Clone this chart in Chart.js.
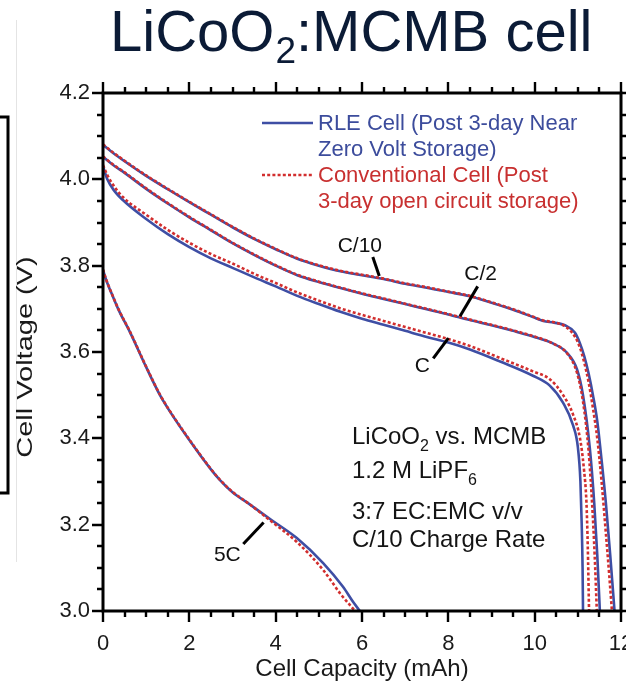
<!DOCTYPE html>
<html>
<head>
<meta charset="utf-8">
<script src="https://cdn.jsdelivr.net/npm/chart.js@4.4.1/dist/chart.umd.min.js"></script>
<style>
  html, body { margin: 0; padding: 0; background: #fff; overflow: hidden; }
  #chart { display: block; }
</style>
</head>
<body>
<canvas id="chart" width="660" height="690"></canvas>
<script>
// Discharge curves, capacity (mAh) vs voltage (V)
// C/10 rate
const c10RleCap = [0, 0.25, 0.5, 1, 1.5, 2, 2.5, 3, 3.5, 4, 4.5, 5, 5.5, 6, 6.5, 7, 7.5, 8, 8.5, 9, 9.5, 9.96, 10.2, 10.45, 10.7, 10.93, 11.05, 11.15, 11.25, 11.35, 11.45, 11.55, 11.65, 11.75, 11.85];
const c10RleV = [4.08, 4.06, 4.042, 4.008, 3.977, 3.947, 3.918, 3.889, 3.862, 3.838, 3.816, 3.8, 3.787, 3.778, 3.769, 3.758, 3.749, 3.739, 3.729, 3.714, 3.698, 3.681, 3.672, 3.668, 3.662, 3.645, 3.62, 3.59, 3.55, 3.5, 3.44, 3.35, 3.25, 3.13, 3.0];
const c10ConvCap = [0, 0.25, 0.5, 1, 1.5, 2, 2.5, 3, 3.5, 4, 4.5, 5, 5.5, 6, 6.5, 7, 7.5, 8, 8.5, 9, 9.5, 9.96, 10.2, 10.45, 10.7, 10.93, 11.05, 11.15, 11.25, 11.35, 11.45, 11.55, 11.65, 11.73, 11.79];
const c10ConvV = [4.081, 4.061, 4.043, 4.009, 3.978, 3.948, 3.919, 3.89, 3.863, 3.839, 3.817, 3.801, 3.788, 3.779, 3.77, 3.759, 3.75, 3.74, 3.73, 3.715, 3.699, 3.682, 3.673, 3.669, 3.66, 3.636, 3.61, 3.575, 3.53, 3.47, 3.4, 3.3, 3.18, 3.08, 3.0];

// C/2 rate
const c2RleCap = [0, 0.25, 0.5, 1, 1.5, 2, 2.5, 3, 3.5, 4, 4.5, 5, 5.5, 6, 6.5, 7, 7.5, 8, 8.5, 9, 9.5, 9.96, 10.42, 10.75, 10.98, 11.12, 11.28, 11.38, 11.45, 11.51];
const c2RleV = [4.052, 4.032, 4.015, 3.978, 3.944, 3.912, 3.882, 3.852, 3.825, 3.8, 3.778, 3.762, 3.748, 3.735, 3.723, 3.711, 3.699, 3.687, 3.674, 3.662, 3.649, 3.636, 3.62, 3.598, 3.56, 3.5, 3.375, 3.25, 3.13, 3.0];
const c2ConvCap = [0, 0.25, 0.5, 1, 1.5, 2, 2.5, 3, 3.5, 4, 4.5, 5, 5.5, 6, 6.5, 7, 7.5, 8, 8.5, 9, 9.5, 9.96, 10.42, 10.75, 10.98, 11.12, 11.25, 11.33, 11.39, 11.44];
const c2ConvV = [4.053, 4.033, 4.016, 3.979, 3.945, 3.913, 3.883, 3.853, 3.826, 3.801, 3.779, 3.763, 3.749, 3.736, 3.724, 3.712, 3.7, 3.688, 3.675, 3.663, 3.65, 3.637, 3.62, 3.597, 3.552, 3.485, 3.37, 3.25, 3.13, 3.0];

// C rate
const c1RleCap = [0, 0.1, 0.25, 0.46, 1, 1.5, 2, 2.5, 3, 3.57, 4, 4.5, 5, 5.5, 6, 6.5, 7, 7.5, 8, 8.5, 9.2, 9.96, 10.35, 10.66, 10.89, 11.0, 11.06, 11.09, 11.11, 11.12];
const c1RleV = [4.03, 4.0, 3.975, 3.952, 3.908, 3.873, 3.843, 3.817, 3.795, 3.77, 3.752, 3.73, 3.711, 3.693, 3.677, 3.663, 3.649, 3.635, 3.622, 3.606, 3.578, 3.545, 3.522, 3.482, 3.43, 3.38, 3.3, 3.2, 3.1, 3.0];
const c1ConvCap = [0, 0.1, 0.25, 0.46, 1, 1.5, 2, 2.5, 3, 3.57, 4, 4.5, 5, 5.5, 6, 6.5, 7, 7.5, 8, 8.5, 9.2, 9.96, 10.35, 10.66, 10.89, 11.05, 11.14, 11.2, 11.23, 11.26];
const c1ConvV = [4.033, 4.01, 3.985, 3.959, 3.918, 3.883, 3.853, 3.827, 3.805, 3.778, 3.76, 3.738, 3.719, 3.701, 3.686, 3.672, 3.658, 3.644, 3.63, 3.614, 3.586, 3.555, 3.537, 3.5, 3.455, 3.4, 3.33, 3.25, 3.15, 3.0];

// 5C rate
const c5RleCap = [0, 0.08, 0.16, 0.35, 0.63, 1, 1.32, 1.5, 2, 2.5, 2.71, 3, 3.4, 3.87, 4.49, 5.1, 5.56, 5.8, 5.95];
const c5RleV = [3.79, 3.765, 3.745, 3.7, 3.645, 3.565, 3.5, 3.47, 3.396, 3.328, 3.303, 3.275, 3.247, 3.213, 3.169, 3.111, 3.056, 3.02, 3.0];
const c5ConvCap = [0, 0.08, 0.16, 0.35, 0.63, 1, 1.32, 1.5, 2, 2.5, 2.71, 3, 3.4, 3.87, 4.49, 5.1, 5.5, 5.84];
const c5ConvV = [3.791, 3.766, 3.746, 3.701, 3.646, 3.566, 3.501, 3.471, 3.397, 3.329, 3.304, 3.276, 3.247, 3.21, 3.16, 3.095, 3.04, 3.0];

// Legend / annotation texts
const legendRle = ['RLE Cell (Post 3-day Near', 'Zero Volt Storage)'];
const legendConv = ['Conventional Cell (Post', '3-day open circuit storage)'];
const rateLabels = [
  { text: 'C/10', x: 5.95, y: 3.845, tip: [6.25, 3.82, 6.4, 3.776] },
  { text: 'C/2', x: 8.75, y: 3.78, tip: [8.68, 3.752, 8.27, 3.683] },
  { text: 'C', x: 7.4, y: 3.568, tip: [7.65, 3.585, 8.0, 3.632] },
  { text: '5C', x: 2.88, y: 3.13, tip: [3.25, 3.155, 3.72, 3.205] }
];

const BLUE = '#3e4ea4';
const RED = '#d22e2e';

function pts(cap, v) {
  return cap.map((c, i) => ({ x: c, y: v[i] }));
}

function rle(cap, v) {
  return {
    data: pts(cap, v), borderColor: BLUE, borderWidth: 2.6, order: 2,
    pointRadius: 0, cubicInterpolationMode: 'monotone', fill: false
  };
}
function conv(cap, v) {
  return {
    data: pts(cap, v), borderColor: RED, borderWidth: 2.6, borderDash: [3, 2.2], order: 1,
    pointRadius: 0, cubicInterpolationMode: 'monotone', fill: false
  };
}

// frame, minor ticks, titles and notes
const decorations = {
  id: 'decorations',
  afterDraw(chart) {
    const { ctx, chartArea: a, scales: { x, y } } = chart;
    ctx.save();

    // cropped box edge on the far left
    ctx.strokeStyle = '#e4e4e4';
    ctx.lineWidth = 1;
    ctx.beginPath(); ctx.moveTo(16.5, 20); ctx.lineTo(16.5, 562); ctx.stroke();
    ctx.strokeStyle = '#000';
    ctx.lineWidth = 3;
    ctx.beginPath();
    ctx.moveTo(0, 117); ctx.lineTo(8, 117); ctx.lineTo(8, 493); ctx.lineTo(0, 493);
    ctx.stroke();

    // axes frame
    ctx.strokeStyle = '#000';
    ctx.lineWidth = 3;
    ctx.strokeRect(a.left, a.top, a.right - a.left, a.bottom - a.top);

    // ticks on all four sides
    ctx.lineWidth = 2.4;
    ctx.beginPath();
    for (let v = 0; v <= 12.001; v += 0.5) {
      const px = Math.round(x.getPixelForValue(v));
      const len = Math.abs(v % 2) < 0.01 ? 11 : 6;
      ctx.moveTo(px, a.bottom); ctx.lineTo(px, a.bottom + len);
      ctx.moveTo(px, a.top); ctx.lineTo(px, a.top - len);
    }
    for (let i = 0; i <= 24; i++) {
      const v = 3.0 + i * 0.05;
      const py = Math.round(y.getPixelForValue(v));
      const len = i % 4 === 0 ? 11 : 6;
      ctx.moveTo(a.left, py); ctx.lineTo(a.left - len, py);
      ctx.moveTo(a.right, py); ctx.lineTo(a.right + len, py);
    }
    ctx.stroke();

    // title
    ctx.fillStyle = '#0b1b36';
    ctx.textBaseline = 'alphabetic';
    ctx.textAlign = 'left';
    let tx = 110;
    ctx.font = '58px "Liberation Sans", Arial, sans-serif';
    ctx.fillText('LiCoO', tx, 51);
    tx += ctx.measureText('LiCoO').width;
    ctx.font = '37px "Liberation Sans", Arial, sans-serif';
    ctx.fillText('2', tx + 1, 63);
    tx += ctx.measureText('2').width + 1;
    ctx.font = '58px "Liberation Sans", Arial, sans-serif';
    ctx.fillText(':MCMB cell', tx, 51);

    // y axis title (narrow, as in the figure)
    ctx.save();
    ctx.translate(26, 357);
    ctx.rotate(-Math.PI / 2);
    ctx.scale(1, 0.74);
    ctx.font = '29px "Liberation Sans", Arial, sans-serif';
    ctx.fillStyle = '#1a1a1a';
    ctx.textAlign = 'center';
    ctx.textBaseline = 'middle';
    ctx.fillText('Cell Voltage (V)', 0, 0);
    ctx.restore();

    // legend
    ctx.font = '22px "Liberation Sans", Arial, sans-serif';
    ctx.textBaseline = 'middle';
    ctx.textAlign = 'left';
    ctx.lineWidth = 2.6;
    ctx.strokeStyle = BLUE;
    ctx.beginPath(); ctx.moveTo(262, 123); ctx.lineTo(313, 123); ctx.stroke();
    ctx.strokeStyle = RED;
    ctx.setLineDash([3, 2.2]);
    ctx.beginPath(); ctx.moveTo(262, 175); ctx.lineTo(313, 175); ctx.stroke();
    ctx.setLineDash([]);
    ctx.fillStyle = '#3c4c9c';
    legendRle.forEach((t, i) => ctx.fillText(t, 318, 124 + i * 26));
    ctx.fillStyle = '#c83030';
    legendConv.forEach((t, i) => ctx.fillText(t, 318, 176 + i * 26));

    // rate labels with pointers
    ctx.fillStyle = '#111';
    ctx.strokeStyle = '#000';
    ctx.lineWidth = 3;
    ctx.font = '21px "Liberation Sans", Arial, sans-serif';
    ctx.textAlign = 'center';
    rateLabels.forEach(r => {
      ctx.fillText(r.text, x.getPixelForValue(r.x), y.getPixelForValue(r.y));
      ctx.beginPath();
      ctx.moveTo(x.getPixelForValue(r.tip[0]), y.getPixelForValue(r.tip[1]));
      ctx.lineTo(x.getPixelForValue(r.tip[2]), y.getPixelForValue(r.tip[3]));
      ctx.stroke();
    });

    // cell description
    ctx.textAlign = 'left';
    ctx.fillStyle = '#141414';
    const big = '24px "Liberation Sans", Arial, sans-serif';
    const small = '16px "Liberation Sans", Arial, sans-serif';
    const noteX = 352;
    ctx.font = big;
    ctx.fillText('LiCoO', noteX, 437);
    let w = ctx.measureText('LiCoO').width;
    ctx.font = small;
    ctx.fillText('2', noteX + w, 447);
    w += ctx.measureText('2').width;
    ctx.font = big;
    ctx.fillText(' vs. MCMB', noteX + w, 437);
    ctx.fillText('1.2 M LiPF', noteX, 471);
    w = ctx.measureText('1.2 M LiPF').width;
    ctx.font = small;
    ctx.fillText('6', noteX + w, 481);
    ctx.font = big;
    ctx.fillText('3:7 EC:EMC v/v', noteX, 512);
    ctx.fillText('C/10 Charge Rate', noteX, 540);

    ctx.restore();
  }
};

new Chart(document.getElementById('chart'), {
  type: 'line',
  data: {
    datasets: [
      rle(c10RleCap, c10RleV), conv(c10ConvCap, c10ConvV),
      rle(c2RleCap, c2RleV), conv(c2ConvCap, c2ConvV),
      rle(c1RleCap, c1RleV), conv(c1ConvCap, c1ConvV),
      rle(c5RleCap, c5RleV), conv(c5ConvCap, c5ConvV)
    ]
  },
  options: {
    responsive: false,
    animation: false,
    devicePixelRatio: 1,
    layout: { padding: { top: 93, right: 39, bottom: 0, left: 0 } },
    plugins: { legend: { display: false }, tooltip: { enabled: false } },
    scales: {
      x: {
        type: 'linear', min: 0, max: 12,
        grid: { display: false, drawTicks: false },
        border: { display: false },
        ticks: {
          stepSize: 2, padding: 20, color: '#1a1a1a',
          font: { family: '"Liberation Sans", Arial, sans-serif', size: 22 }
        },
        title: {
          display: true, text: 'Cell Capacity (mAh)', color: '#1a1a1a',
          padding: { top: 0, bottom: 6 },
          font: { family: '"Liberation Sans", Arial, sans-serif', size: 24 }
        },
        afterFit(scale) { scale.height = 79; }
      },
      y: {
        type: 'linear', min: 3.0, max: 4.2,
        grid: { display: false, drawTicks: false },
        border: { display: false },
        ticks: {
          stepSize: 0.2, padding: 13, color: '#1a1a1a',
          font: { family: '"Liberation Sans", Arial, sans-serif', size: 22 },
          callback: v => v.toFixed(1)
        },
        afterFit(scale) { scale.width = 103; }
      }
    }
  },
  plugins: [decorations]
});
</script>
</body>
</html>
